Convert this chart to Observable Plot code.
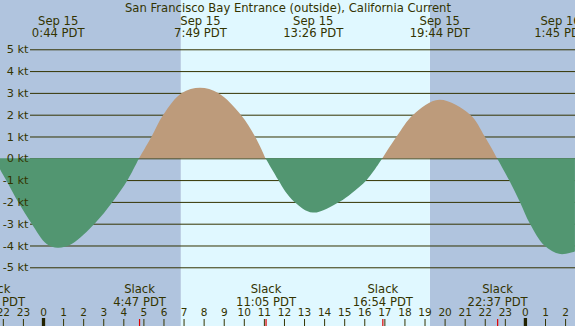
<!DOCTYPE html>
<html><head><meta charset="utf-8">
<script src="https://cdn.jsdelivr.net/npm/d3@7"></script>
<script src="https://cdn.jsdelivr.net/npm/@observablehq/plot@0.6"></script>
<style>html,body{margin:0;padding:0;overflow:hidden;background:#fff}#chart svg{display:block}</style>
</head><body><div id="chart"></div>
<script>
const title = "San Francisco Bay Entrance (outside), California Current";
const tickHours = [-2,-1,0,1,2,3,4,5,6,7,8,9,10,11,12,13,14,15,16,17,18,19,20,21,22,23,24,25,26];
const knotTicks = [5,4,3,2,1,0,-1,-2,-3,-4,-5];
const sunrise = "6:52", sunset = "19:16";
const peakDays = ["Sep 15","Sep 15","Sep 15","Sep 15","Sep 16"];
const peakTimes = ["0:44","7:49","13:26","19:44","1:45"];
const peakDayOffset = [0,0,0,0,1];
const slackTimes = ["21:35","4:47","11:05","16:54","22:37"];
const slackDayOffset = [-1,0,0,0,0];
// current readings: hours since Sep 15 0:00, knots (+ flood, - ebb)
const flowHours = [-2.417,-2.141,-1.776,-1.229,-0.564,0.183,0.733,1.428,2.59,3.45,4.22,4.783,
  5.41,5.99,6.91,7.817,8.73,9.85,10.56,11.083,
  11.72,12.05,12.52,13.433,14.75,15.37,16.12,16.9,
  17.61,18.44,19.733,21.27,22.0,22.617,
  23.21,23.75,24.25,24.97,25.75,26.49];
const flowKnots = [0,-0.5,-1.1,-2.02,-3.0,-3.93,-4.1,-3.93,-2.98,-2.02,-0.99,0,
  1,2,3,3.24,3,2,1,0,
  -1,-1.5,-2,-2.49,-2,-1.6,-1,0,
  1,2,2.68,2,1,0,
  -1,-2,-3,-4,-4.39,-4.28];

const toHour = (s, off) => { const [h, m] = s.split(":").map(Number); return off * 24 + h + m / 60; };
const xDomain = [-2.1414, 26.494];
const yDomain = [-7.693, 7.261];

const peaks = peakTimes.map((t, i) => ({t: toHour(t, peakDayOffset[i]), label: `${peakDays[i]}\n${t} PDT`}));
const slacks = slackTimes.map((t, i) => ({t: toHour(t, slackDayOffset[i]), label: `Slack\n${t} PDT`}));
const bands = [
  {x1: xDomain[0], x2: toHour(sunrise, 0), night: true},
  {x1: toHour(sunrise, 0), x2: toHour(sunset, 0), night: false},
  {x1: toHour(sunset, 0), x2: xDomain[1], night: true}
];

// split into flood/ebb segments at slack points
const rows = [];
let seg = 0;
flowHours.forEach((t, i) => {
  const v = flowKnots[i];
  rows.push({t, v, seg});
  if (v === 0 && i > 0 && i < flowHours.length - 1) { seg++; rows.push({t, v, seg}); }
});
const segSign = {};
rows.forEach(r => { if (r.v !== 0) segSign[r.seg] = r.v > 0 ? "flood" : "ebb"; });
rows.forEach(r => r.kind = segSign[r.seg]);

const ink = "#333300";
const chart = Plot.plot({
  width: 575, height: 326,
  marginTop: 0, marginBottom: 0, marginLeft: 0, marginRight: 0,
  x: {domain: xDomain, axis: null},
  y: {domain: yDomain, axis: null},
  style: {fontFamily: "DejaVu Sans", fontSize: "11.6px", color: ink, background: "transparent"},
  marks: [
    Plot.rect(bands, {filter: d => d.night, x1: "x1", x2: "x2", fill: "#b0c4de"}),
    Plot.rect(bands, {filter: d => !d.night, x1: "x1", x2: "x2", fill: "#e0f8ff"}),
    Plot.ruleY(knotTicks, {y: d => d, stroke: ink, strokeWidth: 1, insetLeft: 30}),
    Plot.areaY(rows, {filter: d => d.kind === "flood", x: "t", y: "v", z: "seg", curve: "catmull-rom", fill: "#bd9b7b", clip: true}),
    Plot.areaY(rows, {filter: d => d.kind === "ebb", x: "t", y: "v", z: "seg", curve: "catmull-rom", fill: "#529671", clip: true}),
    Plot.text(knotTicks, {y: d => d, text: d => `${d} kt`, frameAnchor: "left", textAnchor: "end", dx: 28, fontSize: 11.3}),
    Plot.text([title], {text: d => d, frameAnchor: "top", lineAnchor: "top", dy: 3}),
    Plot.text(peaks, {x: "t", text: "label", frameAnchor: "top", lineAnchor: "top", dy: 15.3, lineHeight: 1.07}),
    Plot.text(slacks, {x: "t", text: "label", frameAnchor: "top", lineAnchor: "top", dy: 283.5, lineHeight: 1.1}),
    Plot.text(tickHours, {x: d => d, text: d => String(((d % 24) + 24) % 24), frameAnchor: "top", lineAnchor: "top", dy: 308.5, fontSize: 10.5}),
    Plot.ruleX(tickHours, {filter: d => d % 24 !== 0, x: d => d, stroke: ink, strokeWidth: 1, insetTop: 319}),
    Plot.ruleX(tickHours, {filter: d => d % 24 === 0, x: d => d, stroke: "#222200", strokeWidth: 3.3, insetTop: 318}),
    Plot.ruleX(slacks, {x: "t", stroke: "#e00000", strokeWidth: 1.2, insetTop: 319})
  ]
});
document.getElementById("chart").appendChild(chart);
</script>
</body></html>
